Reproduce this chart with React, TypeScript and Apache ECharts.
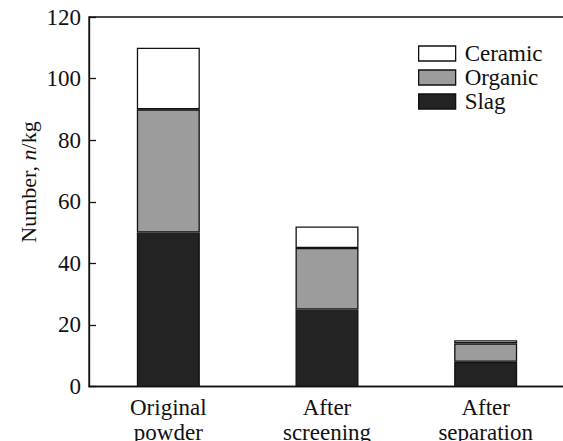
import React, { useEffect, useRef } from "react";
import * as echarts from "echarts";

const categories = ["Original\npowder", "After\nscreening", "After\nseparation"];
const slag = [50, 25, 8];
const organic = [40, 20, 6];
const ceramic = [20, 7, 1];
const yTicks = { min: 0, max: 120, interval: 20 };

const FONT = "Liberation Serif";
const INK = "#111";

const css = `.serif-chart text, .serif-chart tspan { font-family: "Liberation Serif", "Times New Roman", serif !important; }`;

export default function App() {
  const ref = useRef<HTMLDivElement>(null);
  useEffect(() => {
    if (!ref.current) return;
    const chart = echarts.init(ref.current, undefined, { renderer: "svg" });
    const barStyle = (color: string) => ({
      color,
      borderColor: INK,
      borderWidth: 1.3,
    });
    chart.setOption({
      animation: false,
      backgroundColor: "#fff",
      grid: {
        left: 89,
        right: -2,
        top: 17,
        bottom: 441 - 386.5,
        outerBoundsMode: "none",
        containLabel: false,
        show: true,
        borderColor: INK,
        borderWidth: 1.3,
        backgroundColor: "transparent",
      },
      legend: {
        orient: "vertical",
        left: 413,
        top: 37,
        itemWidth: 37,
        itemHeight: 15,
        itemGap: 1,
        icon: "rect",
        data: ["Ceramic", "Organic", "Slag"],
        itemStyle: { borderColor: INK, borderWidth: 1.3 },
        textStyle: {
          fontFamily: FONT,
          fontSize: 23,
          color: INK,
          lineHeight: 23,
          padding: [0, 0, 0, 4],
        },
      },
      xAxis: {
        type: "category",
        data: categories,
        axisLine: { lineStyle: { color: INK, width: 1.3 } },
        axisTick: { show: false },
        axisLabel: {
          fontFamily: FONT,
          fontSize: 23,
          color: INK,
          lineHeight: 25,
          margin: 8,
          interval: 0,
        },
        splitLine: { show: false },
      },
      yAxis: {
        type: "value",
        min: yTicks.min,
        max: yTicks.max,
        interval: yTicks.interval,
        axisLine: { show: true, lineStyle: { color: INK, width: 1.3 } },
        axisTick: { show: true, inside: true, length: 7, lineStyle: { color: INK, width: 1.3 } },
        axisLabel: {
          fontFamily: FONT,
          fontSize: 23,
          color: INK,
          margin: 8,
        },
        splitLine: { show: false },
      },
      graphic: [
        {
          type: "text",
          x: 28,
          y: 182,
          rotation: Math.PI / 2,
          style: {
            text: "{a|Number, }{b|n}{a|/kg}",
            align: "center",
            verticalAlign: "middle",
            rich: {
              a: { fontFamily: FONT, fontSize: 22, fill: INK },
              b: { fontFamily: FONT, fontSize: 22, fontStyle: "italic", fill: INK },
            },
          },
        },
      ],
      series: [
        {
          name: "Slag",
          type: "bar",
          stack: "total",
          barWidth: 63,
          data: slag,
          itemStyle: barStyle("#232323"),
        },
        {
          name: "Organic",
          type: "bar",
          stack: "total",
          barWidth: 63,
          data: organic,
          itemStyle: barStyle("#9c9c9c"),
        },
        {
          name: "Ceramic",
          type: "bar",
          stack: "total",
          barWidth: 63,
          data: ceramic,
          itemStyle: barStyle("#ffffff"),
        },
      ],
    });
    return () => chart.dispose();
  }, []);
  return (
    <>
      <style>{css}</style>
      <div
        ref={ref}
        className="serif-chart"
        style={{ position: "absolute", left: 0, top: 0, width: 563, height: 441 }}
      />
    </>
  );
}
